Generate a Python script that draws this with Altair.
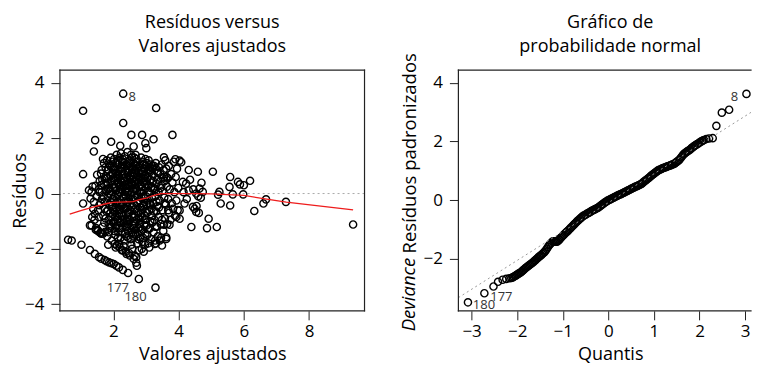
import altair as alt
import pandas as pd

FONT = "Open Sans"

# ---------------- Left panel: residuals vs fitted ----------------
blob_pts = [
    (1.25, 0.12), (1.30, -0.18), (1.33, 0.05), (1.38, -0.55), (1.28, -1.15), (1.36, 0.25), (1.40, -0.30), (1.35, -0.85),
    (1.43, -0.73), (1.45, 0.28), (1.48, -0.10), (1.50, 0.68), (1.52, -1.32), (1.55, 0.15), (1.57, -0.42), (1.42, -0.95),
    (1.58, 0.45), (1.47, -1.25), (1.53, -0.60), (1.60, -1.42),
    (1.62, 0.72), (1.65, -0.20), (1.68, 1.25), (1.70, 0.35), (1.72, -1.05), (1.74, -0.55), (1.76, 0.95), (1.78, 0.10),
    (1.63, -1.45), (1.66, 0.50), (1.69, -0.80), (1.71, 1.10), (1.73, -0.30), (1.75, -1.38), (1.77, 0.62), (1.79, -0.65),
    (1.64, 0.05), (1.80, 1.20),
    (1.81, -1.55), (1.82, 0.40), (1.83, -0.15), (1.84, 0.85), (1.85, -0.95), (1.86, 1.05), (1.87, -0.40), (1.88, 0.20),
    (1.89, -1.25), (1.90, 0.65), (1.91, -0.70), (1.92, 1.30), (1.93, -0.05), (1.94, 0.95), (1.95, -1.70), (1.96, 0.30),
    (1.97, -0.55), (1.98, 1.15), (1.99, -1.05), (2.00, 0.55), (1.84, -1.85), (1.87, 0.00), (1.93, -0.30), (1.97, 0.75),
    (2.01, -0.20), (2.02, 1.25), (2.03, -1.35), (2.04, 0.45), (2.05, -0.85), (2.06, 0.90), (2.07, -1.95), (2.08, 0.10),
    (2.09, -0.50), (2.10, 1.40), (2.11, -1.15), (2.12, 0.70), (2.13, -0.05), (2.14, -1.60), (2.15, 1.05), (2.16, 0.35),
    (2.17, -0.75), (2.18, -1.82), (2.19, 0.85), (2.20, -0.35), (2.03, 0.25), (2.06, -1.50), (2.09, 1.10), (2.12, -0.95),
    (2.15, 0.55), (2.18, -1.25), (2.05, 0.60), (2.19, 1.30),
    (2.21, 0.15), (2.22, -1.05), (2.23, 1.45), (2.24, -0.45), (2.25, 0.80), (2.26, -2.05), (2.27, 0.40), (2.28, -1.40),
    (2.29, 1.15), (2.30, -0.10), (2.31, -0.80), (2.32, 0.95), (2.33, -1.70), (2.34, 0.25), (2.35, 1.35), (2.36, -0.55),
    (2.37, -1.20), (2.38, 0.60), (2.39, -0.25), (2.40, 1.05), (2.22, 0.50), (2.25, -0.70), (2.28, 1.25), (2.31, -1.90),
    (2.34, -0.95), (2.37, 0.05), (2.40, -1.55), (2.24, 0.95), (2.33, 0.70), (2.38, -2.10),
    (2.41, 0.35), (2.42, -0.90), (2.43, 1.50), (2.44, -0.30), (2.45, 0.75), (2.46, -1.60), (2.47, 0.10), (2.48, -2.15),
    (2.49, 1.20), (2.50, -0.60), (2.51, 0.50), (2.52, -1.25), (2.53, 0.95), (2.54, -0.05), (2.55, -1.85), (2.56, 0.30),
    (2.57, 1.30), (2.58, -0.85), (2.59, 0.65), (2.60, -1.45), (2.42, 1.00), (2.45, -1.10), (2.48, 0.60), (2.51, -0.40),
    (2.54, 1.40), (2.57, -2.00), (2.60, 0.15), (2.44, -0.70), (2.53, -1.65), (2.58, 0.90),
    (2.61, -0.20), (2.62, 1.10), (2.63, -1.10), (2.64, 0.45), (2.65, -2.25), (2.66, 0.85), (2.67, -0.55), (2.68, 1.40),
    (2.69, -1.50), (2.70, 0.20), (2.71, -0.95), (2.72, 0.65), (2.73, -1.80), (2.74, 1.15), (2.75, -0.30), (2.76, 0.40),
    (2.77, -1.25), (2.78, 0.95), (2.79, -2.05), (2.80, 0.05), (2.62, -0.75), (2.65, 0.70), (2.68, -1.30), (2.71, 1.25),
    (2.74, -0.10), (2.77, -1.65), (2.80, 0.55), (2.64, 1.30), (2.70, -2.30), (2.76, -0.70),
    (2.81, 1.00), (2.82, -0.50), (2.83, 0.30), (2.84, -1.35), (2.85, 1.30), (2.86, -0.15), (2.87, -2.00), (2.88, 0.70),
    (2.89, -0.85), (2.90, 1.15), (2.91, -1.60), (2.92, 0.10), (2.93, -0.40), (2.94, 0.90), (2.95, -1.15), (2.96, 0.45),
    (2.97, -1.85), (2.98, 1.25), (2.99, -0.65), (3.00, 0.20), (2.83, -1.05), (2.86, 0.55), (2.89, -1.75), (2.92, 1.05),
    (2.95, -0.30), (2.98, -1.45), (2.84, 0.85), (2.93, -2.10),
    (3.01, -0.95), (3.02, 1.10), (3.03, 0.35), (3.04, -1.50), (3.05, 0.75), (3.06, -0.25), (3.07, -1.80), (3.08, 1.20),
    (3.09, 0.05), (3.10, -0.60), (3.11, 0.95), (3.12, -1.25), (3.13, 0.50), (3.14, -0.40), (3.15, 1.05), (3.16, -1.65),
    (3.17, 0.25), (3.18, -0.80), (3.19, 0.70), (3.20, -1.05), (3.04, 0.55), (3.10, -1.95), (3.14, 0.85), (3.18, -0.15),
    (3.21, 0.90), (3.22, -0.35), (3.23, -1.40), (3.24, 1.00), (3.25, 0.20), (3.26, -0.95), (3.27, 0.60), (3.28, -1.70),
    (3.29, -0.10), (3.30, 1.10), (3.31, -0.65), (3.32, 0.35), (3.33, -1.20), (3.34, 0.80), (3.35, -0.45), (3.36, -1.55),
    (3.37, 0.50), (3.38, 0.05), (3.39, -0.85), (3.40, 0.95),
    (3.42, -0.25), (3.44, 0.70), (3.45, -1.10), (3.47, 0.30), (3.48, 1.05), (3.50, -0.60), (3.51, 0.10), (3.53, -1.35),
    (3.54, 0.85), (3.56, -0.15), (3.57, 0.45), (3.58, -0.90), (3.59, 1.20), (3.46, -1.60), (3.55, 0.60),
    (3.61, -0.40), (3.62, 0.90), (3.64, 0.25), (3.65, -1.10), (3.67, 0.55), (3.68, -0.20), (3.70, 1.00), (3.71, -0.70),
    (3.73, 0.15), (3.75, -0.95), (3.77, 0.70), (3.79, -0.35),
    (3.81, 0.40), (3.83, -0.55), (3.85, 1.15), (3.87, 0.05), (3.89, -0.80), (3.91, 0.60), (3.93, -0.25), (3.95, 0.90),
    (3.97, -0.60), (3.99, 0.20),
]

core_pts = [
    (1.81, 0.55), (1.83, -0.60), (1.85, 0.15), (1.88, -1.10), (1.90, 1.00), (1.92, -0.85), (1.95, 0.45), (1.98, -0.20),
    (1.86, -1.40), (1.94, -1.20),
    (2.01, 0.95), (2.03, -0.65), (2.05, 0.20), (2.07, -1.20), (2.09, 0.75), (2.11, -0.30), (2.13, 0.40), (2.15, -1.40),
    (2.17, 0.05), (2.19, -0.55), (2.02, -1.00), (2.14, 1.20),
    (2.21, -0.60), (2.23, 0.30), (2.25, -1.25), (2.27, 1.05), (2.29, -0.40), (2.31, 0.55), (2.33, -1.05), (2.35, 0.10),
    (2.37, 0.85), (2.39, -0.75), (2.22, -1.60), (2.30, 0.30), (2.36, -1.45),
    (2.41, -0.45), (2.43, 0.20), (2.45, -1.35), (2.47, 0.90), (2.49, -0.15), (2.51, -0.95), (2.53, 0.40), (2.55, -0.50),
    (2.57, 0.75), (2.59, -1.15), (2.42, 0.55), (2.50, 1.10), (2.56, -1.40),
    (2.61, 0.60), (2.63, -0.40), (2.65, -1.00), (2.67, 0.30), (2.69, 1.00), (2.71, -0.65), (2.73, 0.10), (2.75, -1.45),
    (2.77, 0.80), (2.79, -0.25), (2.62, -1.55), (2.70, 0.50), (2.78, -0.90),
    (2.81, -0.25), (2.83, 0.60), (2.85, -0.70), (2.87, 0.25), (2.89, -1.30), (2.91, 0.80), (2.93, -0.10), (2.95, 0.55),
    (2.97, -0.95), (2.99, 1.00), (2.82, -1.60), (2.90, -0.45),
    (3.01, 0.45), (3.03, -0.70), (3.05, 0.05), (3.07, -1.30), (3.09, 0.85), (3.11, -0.35), (3.13, -1.00), (3.15, 0.20),
    (3.17, -0.55), (3.19, 1.00), (3.22, 0.45), (3.24, -0.65), (3.27, 0.15), (3.29, -1.20),
    (1.55, -0.85), (1.58, 0.05), (1.61, -0.35), (1.64, 0.85), (1.67, -1.20), (1.70, -0.10), (1.73, 0.55), (1.76, -0.90),
    (1.79, 0.30), (1.62, 0.30),
    (3.32, -0.30), (3.36, 0.75), (3.40, -0.50), (3.44, 0.20), (3.49, -0.95), (3.52, 0.55), (3.57, -0.35), (3.63, 0.60),
    (3.68, -0.60),
    (1.91, 0.10), (1.96, -0.45), (2.00, 0.85), (2.04, -0.10), (2.08, 0.55), (2.12, -0.80), (2.16, 0.65), (2.20, 0.05),
    (2.24, -0.25), (2.28, 0.70), (2.32, -0.55), (2.36, 0.45), (2.40, -1.00), (2.44, 0.05), (2.48, -0.70), (2.52, 0.65),
    (2.56, -0.20), (2.60, 0.95), (2.64, -0.85), (2.68, 0.15), (2.72, -0.35), (2.76, 0.60), (2.80, -1.10), (2.84, 0.05),
    (2.88, -0.60), (2.92, 0.40), (2.96, -0.80), (3.00, -0.10), (3.04, -0.40), (3.08, 0.30), (1.99, -0.75), (2.07, -0.35),
    (2.27, -0.95), (2.46, 0.35), (2.66, -0.15), (2.86, 0.85), (3.06, 0.60), (2.18, 0.25), (2.38, -0.10), (2.58, 0.35),
    (2.78, 0.25), (2.98, 0.65), (2.26, 1.15), (2.46, 1.05), (2.66, 1.05), (2.20, -1.05), (2.42, -1.20), (2.62, -1.25),
    (2.82, -1.20), (3.02, -1.15),
]

band_pts = [
    (0.61, -1.67), (0.72, -1.70), (1.02, -1.85), (1.28, -2.04), (1.43, -2.18), (1.56, -2.30), (1.63, -2.36),
    (1.73, -2.40), (1.79, -2.45), (1.87, -2.49), (1.94, -2.52), (2.01, -2.55), (2.09, -2.61), (2.17, -2.67),
    (2.29, -2.76), (2.45, -2.87), (2.78, -3.09), (3.29, -3.40),
    (1.33, -1.15), (1.46, -1.31), (1.53, -1.36), (1.60, -1.42), (1.68, -1.45),
    (2.04, -1.82), (2.11, -1.88), (2.19, -1.94), (2.29, -2.06), (2.40, -2.18), (2.50, -2.24), (2.62, -2.36),
    (2.72, -2.61), (2.70, -2.50),
]

sparse_pts = [
    (2.30, 3.61), (3.31, 3.09), (1.07, 2.99), (2.30, 2.55), (2.55, 2.12), (2.88, 2.12), (3.81, 2.12), (3.23, 1.96),
    (1.44, 1.93), (1.93, 1.87), (1.40, 1.52), (2.21, 1.73), (2.62, 1.70), (2.98, 1.82), (3.01, 1.64), (1.07, 0.70),
    (1.07, -0.36),
    (4.31, 0.85), (4.59, 0.79), (5.05, 0.79), (5.58, 0.60), (5.82, 0.42), (5.88, 0.33), (6.19, 0.46), (6.00, 0.30),
    (5.56, 0.24), (5.25, 0.06), (5.21, -0.04), (5.66, -0.03), (5.98, -0.03), (5.29, -0.36), (5.58, -0.43),
    (6.32, -0.63), (6.60, -0.36), (6.68, -0.21), (7.29, -0.30), (9.35, -1.12), (4.92, -0.91), (4.87, -1.25),
    (5.17, -1.21), (4.39, -1.21), (4.62, -0.70), (4.44, -0.48), (4.49, -0.55), (4.31, 0.11), (4.54, 0.00),
    (4.64, 0.18), (4.70, 0.39), (4.74, 0.06), (4.08, 1.13), (4.03, 1.19), (3.90, 1.24), (3.55, 1.31), (4.13, 0.42),
    (4.23, 0.36), (4.18, -0.36), (4.03, -0.61), (3.93, -0.85), (4.03, -0.91), (3.62, -1.64), (3.49, -1.88),
    (3.27, -1.82), (3.72, -1.13), (3.55, -1.13), (4.45, 0.15), (4.60, -0.10), (4.68, -0.15), (4.25, -0.20),
    (4.35, 0.50), (4.15, 0.05), (4.55, -0.45), (3.31, -1.80), (3.42, -1.70), (3.62, -1.58), (4.54, -0.67),
]

left_pts = blob_pts + core_pts + band_pts + sparse_pts
fitted = [p[0] for p in left_pts]
resid = [p[1] for p in left_pts]

lowess_x = [0.66, 1.0, 1.4, 1.8, 2.0, 2.2, 2.4, 2.6, 2.8, 3.0, 3.2, 3.45, 4.0, 4.5, 5.0, 5.5, 6.0, 6.7, 7.3, 9.35]
lowess_y = [-0.74, -0.62, -0.48, -0.36, -0.32, -0.31, -0.30, -0.29, -0.22, -0.17, -0.08, 0.0, 0.0, 0.0, -0.01,
            -0.04, -0.07, -0.20, -0.31, -0.59]

left_labels = ["8", "177", "180"]
left_label_x = [2.30, 2.78, 3.29]
left_label_y = [3.61, -3.09, -3.40]
left_label_dx = [9, -21, -20]
left_label_dy = [3, 9, 9]

# ---------------- Right panel: normal QQ plot ----------------
qq_pairs = [
    (-3.08, -3.49), (-2.72, -3.18), (-2.52, -2.95), (-2.42, -2.79), (-2.32, -2.72), (-2.24, -2.69), (-2.17, -2.67),
    (-2.13, -2.66),
    (-2.100, -2.64), (-2.075, -2.62), (-2.050, -2.59), (-2.025, -2.57), (-2.000, -2.54), (-1.975, -2.52), (-1.950, -2.49), (-1.925, -2.47),
    (-1.900, -2.44), (-1.875, -2.40), (-1.850, -2.37), (-1.825, -2.33), (-1.800, -2.30), (-1.775, -2.27), (-1.750, -2.24), (-1.725, -2.21),
    (-1.700, -2.18), (-1.675, -2.15), (-1.650, -2.12), (-1.625, -2.08), (-1.600, -2.05), (-1.575, -2.01), (-1.550, -1.98), (-1.525, -1.94),
    (-1.500, -1.91), (-1.475, -1.88), (-1.450, -1.84), (-1.425, -1.81), (-1.400, -1.77), (-1.375, -1.72), (-1.350, -1.66), (-1.325, -1.60),
    (-1.300, -1.54), (-1.275, -1.50), (-1.250, -1.46), (-1.225, -1.42), (-1.200, -1.41), (-1.175, -1.42), (-1.150, -1.42), (-1.125, -1.42),
    (-1.100, -1.39), (-1.075, -1.35), (-1.050, -1.30), (-1.025, -1.26), (-1.000, -1.22), (-0.975, -1.18), (-0.950, -1.14), (-0.925, -1.10),
    (-0.900, -1.07), (-0.875, -1.03), (-0.850, -0.99), (-0.825, -0.95), (-0.800, -0.91), (-0.775, -0.87), (-0.750, -0.83), (-0.725, -0.79),
    (-0.700, -0.75), (-0.675, -0.71), (-0.650, -0.68), (-0.625, -0.64), (-0.600, -0.61), (-0.575, -0.57), (-0.550, -0.54), (-0.525, -0.52),
    (-0.500, -0.50), (-0.475, -0.47), (-0.450, -0.45), (-0.425, -0.43), (-0.400, -0.41), (-0.375, -0.38), (-0.350, -0.36), (-0.325, -0.34),
    (-0.300, -0.32), (-0.275, -0.30), (-0.250, -0.28), (-0.225, -0.26), (-0.200, -0.23), (-0.175, -0.20), (-0.150, -0.17), (-0.125, -0.14),
    (-0.100, -0.11), (-0.075, -0.08), (-0.050, -0.06), (-0.025, -0.03), (0.000, -0.01), (0.025, 0.01), (0.050, 0.03), (0.075, 0.05),
    (0.100, 0.07), (0.125, 0.09), (0.150, 0.11), (0.175, 0.13), (0.200, 0.15), (0.225, 0.17), (0.250, 0.19), (0.275, 0.20),
    (0.300, 0.22), (0.325, 0.24), (0.350, 0.26), (0.375, 0.28), (0.400, 0.30), (0.425, 0.32), (0.450, 0.34), (0.475, 0.36),
    (0.500, 0.38), (0.525, 0.40), (0.550, 0.42), (0.575, 0.44), (0.600, 0.46), (0.625, 0.47), (0.650, 0.49), (0.675, 0.51),
    (0.700, 0.53), (0.725, 0.55), (0.750, 0.58), (0.775, 0.62), (0.800, 0.65), (0.825, 0.68), (0.850, 0.71), (0.875, 0.74),
    (0.900, 0.77), (0.925, 0.81), (0.950, 0.84), (0.975, 0.87), (1.000, 0.90), (1.025, 0.93), (1.050, 0.96), (1.075, 0.99),
    (1.100, 1.02), (1.125, 1.03), (1.150, 1.05), (1.175, 1.07), (1.200, 1.09), (1.225, 1.10), (1.250, 1.12), (1.275, 1.13),
    (1.300, 1.15), (1.325, 1.16), (1.350, 1.18), (1.375, 1.19), (1.400, 1.21), (1.425, 1.22), (1.450, 1.24), (1.475, 1.27),
    (1.500, 1.30), (1.525, 1.33), (1.550, 1.36), (1.575, 1.41), (1.600, 1.46), (1.625, 1.51), (1.650, 1.56), (1.675, 1.59),
    (1.700, 1.62), (1.725, 1.65), (1.750, 1.68), (1.775, 1.70), (1.800, 1.73), (1.825, 1.77), (1.850, 1.80), (1.875, 1.83),
    (1.900, 1.86), (1.925, 1.88), (1.950, 1.91), (1.975, 1.93), (2.000, 1.96), (2.025, 1.99), (2.050, 2.01), (2.075, 2.03),
    (2.100, 2.05), (2.150, 2.08), (2.210, 2.10), (2.290, 2.11),
    (2.37, 2.53), (2.49, 2.98), (2.65, 3.08), (3.03, 3.62),
]
qq_theor = [p[0] for p in qq_pairs]
qq_resid = [p[1] for p in qq_pairs]

qqline_q = [-3.29, 3.13]
qqline_r = [-3.33, 2.99]

right_labels = ["8", "177", "180"]
right_label_x = [3.03, -2.72, -3.08]
right_label_y = [3.62, -3.18, -3.49]
right_label_dx = [-12, 17, 16]
right_label_dy = [3, 4, 3]

# ---------------- build charts ----------------
PW_L, PW_R, PH = 305, 293, 241
BOX = "#222222"
POINT = dict(shape="circle", filled=False, stroke="black", strokeWidth=1.4, size=52, opacity=1)
TITLE_SIZE = 18
ONE = pd.DataFrame({"a": [0]})


def box(pw, ph, right_edge=True):
    rule = dict(color=BOX, strokeWidth=1.2, strokeCap="square")
    edges = [
        alt.Chart(ONE).mark_rule(**rule).encode(x=alt.value(0), x2=alt.value(pw), y=alt.value(0)),
        alt.Chart(ONE).mark_rule(**rule).encode(x=alt.value(0), x2=alt.value(pw), y=alt.value(ph)),
        alt.Chart(ONE).mark_rule(**rule).encode(x=alt.value(0), y=alt.value(0), y2=alt.value(ph)),
    ]
    if right_edge:
        edges.append(alt.Chart(ONE).mark_rule(**rule).encode(x=alt.value(pw), y=alt.value(0), y2=alt.value(ph)))
    return edges


def title_lines(lines, cx):
    out = []
    for txt, yy in zip(lines, [-42.5, -18.5]):
        out.append(alt.Chart(ONE).mark_text(
            text=txt, font=FONT, fontSize=TITLE_SIZE, color="black", align="center", baseline="alphabetic"
        ).encode(x=alt.value(cx), y=alt.value(yy)))
    return out


xs_l = alt.Scale(domain=[0.36, 9.70], nice=False, zero=False)
ys_l = alt.Scale(domain=[-4.24, 4.46], nice=False, zero=False)

left_df = pd.DataFrame({"fitted": fitted, "resid": resid})
lowess_df = pd.DataFrame({"fitted": lowess_x, "resid": lowess_y})

X_L = alt.X("fitted:Q", scale=xs_l, axis=alt.Axis(
    values=[2, 4, 6, 8], title="Valores ajustados", titleX=PW_L / 2, titleY=49,
    titleAlign="center", titleBaseline="alphabetic"))
Y_L = alt.Y("resid:Q", scale=ys_l, axis=alt.Axis(
    values=[-4, -2, 0, 2, 4], title="Resíduos", titleAngle=270, titleAlign="center",
    titleBaseline="alphabetic", titleX=-34, titleY=PH / 2))

zero_rule = alt.Chart(pd.DataFrame({"resid": [0]})).mark_rule(
    color="#aaaaaa", strokeDash=[2, 3], strokeWidth=1
).encode(y=Y_L)

left_points = alt.Chart(left_df).mark_point(**POINT).encode(x=X_L, y=Y_L)
left_lowess = alt.Chart(lowess_df).mark_line(color="#ee1c1c", strokeWidth=1.3).encode(x=X_L, y=Y_L)

# invisible anchor fixing the chart's top-left corner at the page margin
anchor = alt.Chart(ONE).mark_rule(opacity=0, strokeWidth=0.01).encode(
    x=alt.value(-52), y=alt.value(-62), y2=alt.value(-61))

left_layers = [anchor, zero_rule, left_points, left_lowess]
for t, lx, ly, dx, dy in zip(left_labels, left_label_x, left_label_y, left_label_dx, left_label_dy):
    left_layers.append(
        alt.Chart(pd.DataFrame({"fitted": [lx], "resid": [ly], "t": [t]})).mark_text(
            font=FONT, fontSize=13, color="#333333", dx=dx, dy=dy
        ).encode(x=X_L, y=Y_L, text="t:N")
    )
left_layers += box(PW_L, PH, True)
left_layers += title_lines(["Resíduos versus", "Valores ajustados"], PW_L / 2)

left = alt.layer(*left_layers).properties(width=PW_L, height=PH)

R_CX = 152
xs_r = alt.Scale(domain=[-3.29, 3.13], nice=False, zero=False)
ys_r = alt.Scale(domain=[-3.78, 4.43], nice=False, zero=False)
X_R = alt.X("q:Q", scale=xs_r, axis=alt.Axis(
    values=[-3, -2, -1, 0, 1, 2, 3], title="Quantis", titleX=R_CX, titleY=49,
    titleAlign="center", titleBaseline="alphabetic"))
Y_R = alt.Y("r:Q", scale=ys_r, axis=alt.Axis(
    values=[-2, 0, 2, 4], title="Resíduos padronizados", titleAngle=270, titleAlign="left",
    titleBaseline="alphabetic", titleX=-43, titleY=183, titleFontSize=18.5))

qq_df = pd.DataFrame({"q": qq_theor, "r": qq_resid})
qqline_df = pd.DataFrame({"q": qqline_q, "r": qqline_r})

qq_points = alt.Chart(qq_df).mark_point(**POINT).encode(x=X_R, y=Y_R)
qq_line = alt.Chart(qqline_df).mark_line(color="#9a9a9a", strokeDash=[2, 3], strokeWidth=1).encode(x=X_R, y=Y_R)

right_layers = [qq_points, qq_line]
for t, lx, ly, dx, dy in zip(right_labels, right_label_x, right_label_y, right_label_dx, right_label_dy):
    right_layers.append(
        alt.Chart(pd.DataFrame({"q": [lx], "r": [ly], "t": [t]})).mark_text(
            font=FONT, fontSize=13, color="#333333", dx=dx, dy=dy
        ).encode(x=X_R, y=Y_R, text="t:N")
    )

dev_title = alt.Chart(ONE).mark_text(
    text="Deviance", font=FONT, fontSize=18.5, fontStyle="italic", color="black", angle=270,
    align="right", baseline="alphabetic"
).encode(x=alt.value(-43), y=alt.value(188))
right_layers.append(dev_title)
right_layers += box(PW_R, PH, False)
right_layers += title_lines(["Gráfico de", "probabilidade normal"], R_CX)

right = alt.layer(*right_layers).properties(width=PW_R, height=PH)

chart = alt.hconcat(left, right, spacing=94, bounds="flush").configure_view(
    strokeWidth=0, stroke=None
).configure_axis(
    domain=False, grid=False, tickColor=BOX, tickWidth=1, tickSize=9,
    labelFont=FONT, labelFontSize=17, labelColor="black",
    titleFont=FONT, titleFontSize=TITLE_SIZE, titleFontWeight="normal", titleColor="black",
).configure_axisX(labelPadding=4).configure_axisY(labelPadding=7).properties(
    padding={"left": 0, "top": 0, "right": 0, "bottom": 0}
)

chart.save("out.html", embed_options={"renderer": "svg", "actions": False})
